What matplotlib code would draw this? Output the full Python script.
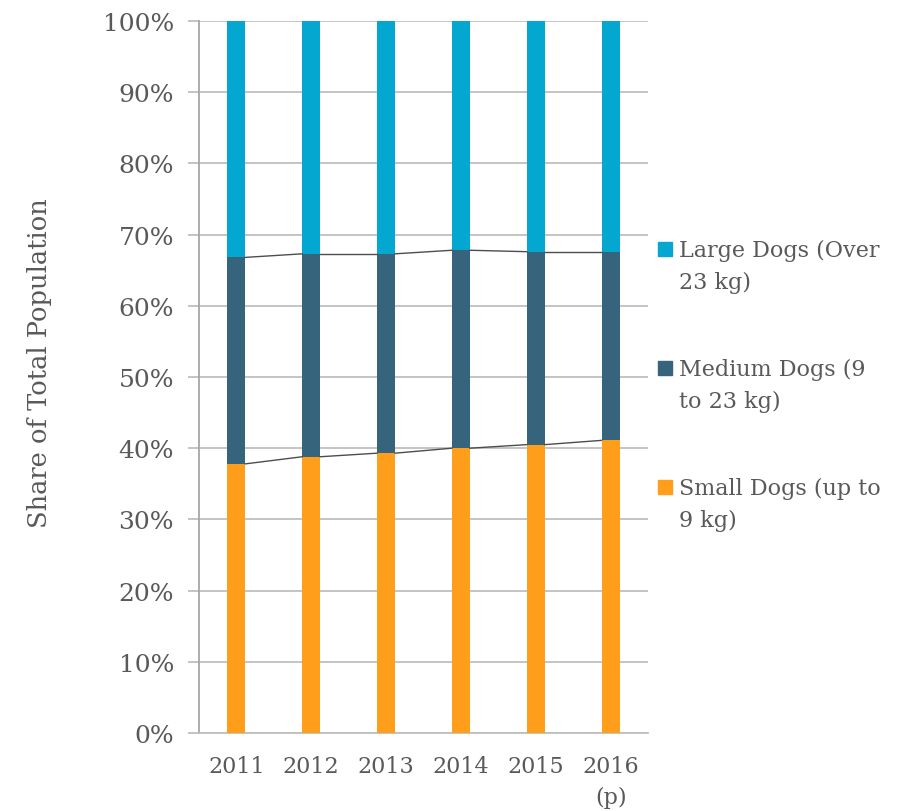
import numpy as np
import matplotlib
matplotlib.use('Agg')
import matplotlib.pyplot as plt
from matplotlib.patches import Rectangle

# data (shares in %)
years = ['2011', '2012', '2013', '2014', '2015', '2016\n(p)']
small = [37.8, 38.8, 39.3, 40.0, 40.5, 41.1]
medium = [29.0, 28.5, 28.0, 27.8, 27.1, 26.5]
large = [33.2, 32.7, 32.7, 32.2, 32.4, 32.4]
labels = ['Large Dogs (Over\n23 kg)', 'Medium Dogs (9\nto 23 kg)', 'Small Dogs (up to\n9 kg)']

# colours
cLarge = '#04A7D0'
cMedium = '#35647C'
cSmall = '#FF9E1A'
txt = '#595959'
grid = '#BFBFBF'

plt.rcParams['font.family'] = ['DejaVu Serif']

def main():
    fig = plt.figure(figsize=(8.98, 8.12), dpi=100)
    ax = fig.add_axes([199 / 898, 78 / 812, 449 / 898, 712 / 812])

    x = np.arange(len(years))
    w = 0.24
    s = np.array(small)
    m = np.array(medium)
    l = np.array(large)
    ax.bar(x, s, w, color=cSmall, zorder=3)
    ax.bar(x, m, w, bottom=s, color=cMedium, zorder=3)
    ax.bar(x, l, w, bottom=s + m, color=cLarge, zorder=3)

    # series lines between bars
    for tops in (s, s + m):
        for i in range(len(x) - 1):
            ax.plot([x[i] + w / 2, x[i + 1] - w / 2], [tops[i], tops[i + 1]],
                    color='#4D4D4D', lw=1.0, zorder=4)

    ax.set_xlim(-0.5, len(x) - 0.5)
    ax.set_ylim(0, 100)
    ax.set_yticks(np.arange(0, 101, 10))
    ax.set_yticklabels(['%d%%' % v for v in range(0, 101, 10)])
    ax.set_xticks(x)
    ax.set_xticklabels(years, linespacing=1.5)
    ax.yaxis.grid(True, color=grid, lw=1.3, zorder=0)

    for sp in ['top', 'right']:
        ax.spines[sp].set_visible(False)
    ax.spines['left'].set_color('#A6A6A6')
    ax.spines['bottom'].set_color(grid)
    ax.spines['left'].set_linewidth(1.3)
    ax.spines['bottom'].set_linewidth(1.3)

    ax.tick_params(axis='y', length=8, width=1.3, color=grid, labelsize=18,
                   labelcolor=txt, pad=10)
    ax.tick_params(axis='x', length=0, labelsize=16, labelcolor=txt, pad=16)
    ax.set_ylabel('Share of Total Population', fontsize=18.5, color=txt)
    ax.yaxis.set_label_coords((52 - 199) / 449, (812 - 363 - 78) / 712)

    # legend drawn by hand: square beside first line of each label
    cols = [cLarge, cMedium, cSmall]
    ys = [250, 369, 488]
    for lab, c, yy in zip(labels, cols, ys):
        fig.patches.append(Rectangle((658 / 898, (812 - yy - 7) / 812),
                                     14 / 898, 14 / 812, color=c,
                                     transform=fig.transFigure, figure=fig))
        fig.text(679 / 898, (812 - yy + 10) / 812, lab, fontsize=16,
                 color=txt, va='top', ha='left', linespacing=1.6)

    fig.savefig('out.png', dpi=100)


if __name__ == '__main__':
    main()
